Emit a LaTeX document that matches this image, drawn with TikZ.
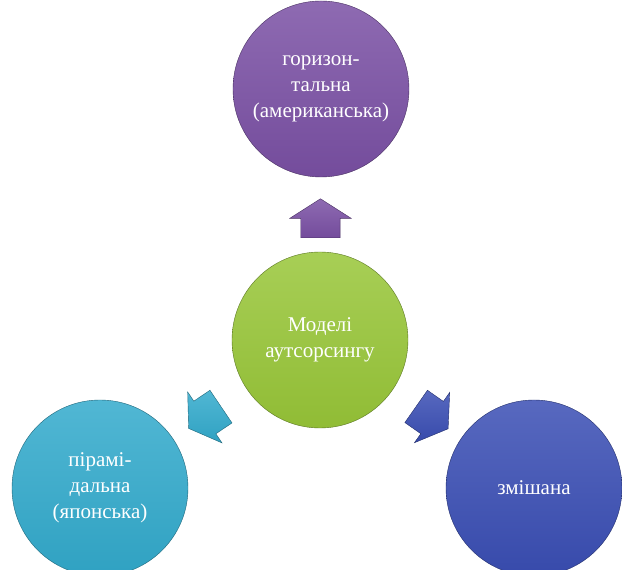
\documentclass[tikz,border=0pt]{standalone}
\usepackage{fontspec}
\setmainfont{Liberation Serif}
\newfontfamily\ballfont{Liberation Serif}
\usetikzlibrary{shapes.arrows,calc}
\definecolor{Purple}{RGB}{122,80,164}
\definecolor{Lime}{RGB}{152,198,56}
\definecolor{Teal}{RGB}{50,170,204}
\definecolor{Royal}{RGB}{58,78,180}
\tikzset{
  ball/.style={circle,minimum size=176pt,inner sep=0pt,align=center,
    text=white,font=\ballfont\fontsize{21}{26}\selectfont,
    top color=#1!85!white,bottom color=#1!95!black,draw=#1!60!black,thin},
  blockarrow/.style={single arrow,minimum height=39pt,minimum width=61pt,
    inner sep=0pt,single arrow head extend=11pt,single arrow tip angle=115,
    text height=39pt,top color=#1!85!white,bottom color=#1!95!black,
    draw=#1!60!black,thin}
}
\begin{document}
\begin{tikzpicture}[x=1pt,y=1pt]
\useasboundingbox (0,0) rectangle (622,570);
\node[ball=Lime] (model) at (320,230) {Моделі\\аутсорсингу};
\node[ball=Purple] (horiz) at (321,481) {горизон-\\тальна\\(американська)};
\node[ball=Teal] (pyram) at (100,82) {пірамі-\\дальна\\(японська)};
\node[ball=Royal] (mixed) at (534,82) {змішана};
% arrows from the centre
\node[blockarrow=Purple,rotate=90] (up) at ($(model)!0.46!(horiz)$) {};
\node[blockarrow=Teal,rotate=214] (left) at ($(model)!0.5!(pyram)$) {};
\node[blockarrow=Royal,rotate=-35] (right) at ($(model)!0.5!(mixed)$) {};
\end{tikzpicture}
\end{document}
